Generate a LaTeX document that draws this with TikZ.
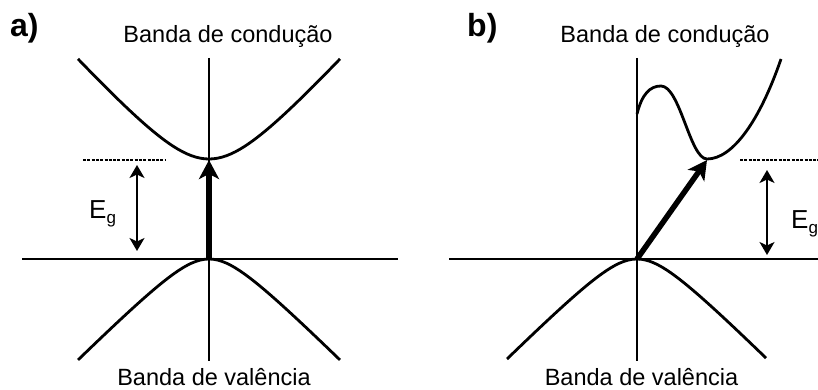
\documentclass[tikz,border=0pt]{standalone}
\usepackage{fontspec}
\setmainfont{Liberation Sans}
\usetikzlibrary{arrows.meta,positioning}

\begin{document}
\begin{tikzpicture}[x=1pt,y=-1pt,>=Stealth]
\tikzstyle{T}=[inner sep=0pt,anchor=base,font=\fontsize{23.5}{26}\selectfont]
\tikzstyle{P}=[inner sep=0pt,anchor=base west,font=\fontsize{32}{36}\selectfont\bfseries]
\tikzstyle{E}=[inner sep=0pt,anchor=base west,font=\fontsize{26}{30}\selectfont]
\tikzstyle{ax}=[line width=2.6pt]
\tikzstyle{band}=[line width=2.8pt,line join=round]
\tikzstyle{lvl}=[line width=2.2pt,dash pattern=on 3pt off 1.3pt]
\tikzstyle{gap}=[line width=2pt,{Stealth[length=13pt,width=15pt,inset=3.5pt]}-{Stealth[length=13pt,width=15pt,inset=3.5pt]}]
\tikzstyle{ex}=[line width=5.5pt,-{Stealth[length=19pt,width=20pt,inset=5pt]}]
\useasboundingbox (0,0) rectangle (818,390);
% a) direto
\node[P] (pa) at (10,37) {a)}; \node[T] (ca) at (228,43) {Banda de condução}; \node[T] (va) at (214,385) {Banda de valência};
\draw[ax] (209,58) -- (209,361); \draw[ax] (22,259) -- (398,259);
\draw[band] plot[domain=-13.1:13.1,samples=61] ({209+10*\x},{159-11.09*(sqrt(25+\x*\x)-5)});
\draw[band] plot[domain=-13.1:13.1,samples=61] ({209+10*\x},{259+10*(sqrt(11.9+\x*\x)-3.45)});
\coordinate (ga) at (209,259); \coordinate (ma) at (209,160);
\coordinate (da) at (83,160); \coordinate (ta) at (137,165); \coordinate (ba) at (137,251);
\draw[lvl] (da) -- ++(83,0); \draw[gap] (ta) -- (ba); \draw[ex] (ga) -- (ma);
\node[E] (ea) at (89,218) {E{\fontsize{17}{20}\selectfont\raisebox{-5pt}{g}}};
% b) indireto
\node[P] (pb) at (467,37) {b)}; \node[T] (cb) at (665,43) {Banda de condução}; \node[T] (vb) at (641.5,385) {Banda de valência};
\draw[ax] (637,58) -- (637,361); \draw[ax] (449,259) -- (818,259);
\draw[band] (637,114) .. controls (642,94) and (650,86) .. (661,86) .. controls (680,86) and (690,159) .. (707,159) .. controls (733,159) and (760,120) .. (781,59);
\draw[band] plot[domain=-13:12.9,samples=61] ({637+10*\x},{259+10*(sqrt(11.9+\x*\x)-3.45)});
\coordinate (gb) at (637,259); \coordinate (mb) at (707,160);
\coordinate (db) at (740,160); \coordinate (tb) at (767,170); \coordinate (bb) at (767,255);
\draw[lvl] (db) -- (818,160); \draw[gap] (tb) -- (bb); \draw[ex] (gb) -- (mb);
\node[E] (eb) at (791,228) {E{\fontsize{17}{20}\selectfont\raisebox{-5pt}{g}}};
\end{tikzpicture}
\end{document}
